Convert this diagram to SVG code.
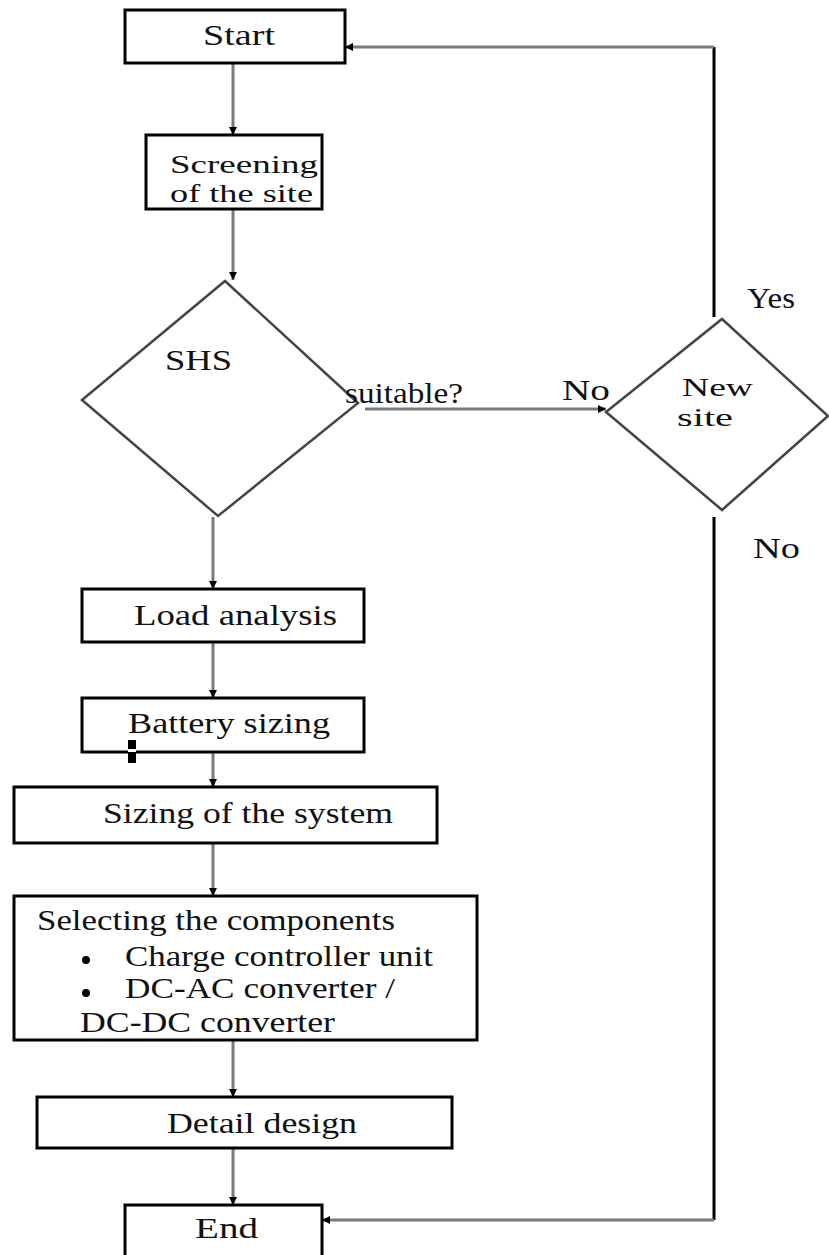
<svg xmlns="http://www.w3.org/2000/svg" width="829" height="1255" viewBox="0 0 829 1255">
<defs>
<style>
.box{fill:#fff;stroke:#000;stroke-width:3}
.dia{fill:#fff;stroke:#444;stroke-width:2.5}
.t{font-family:"Liberation Serif","Times New Roman",serif;font-size:30px;fill:#111}
.s{font-size:26px}
.c{fill:none;stroke:#7a7a7a;stroke-width:3}
.k{fill:none;stroke:#000;stroke-width:3}
</style>
<marker id="ah" markerUnits="userSpaceOnUse" markerWidth="10" markerHeight="10" viewBox="0 0 10 10" refX="9" refY="5" orient="auto">
<path d="M1,1 L9,5 L1,9 Z" fill="#000"/>
</marker>
</defs>
<rect width="829" height="1255" fill="#fff"/>
<g id="connectors">
<line class="c" x1="233" y1="63" x2="233" y2="135" marker-end="url(#ah)"/>
<line class="c" x1="233" y1="209" x2="233" y2="280" marker-end="url(#ah)"/>
<line class="c" x1="213" y1="517" x2="213" y2="589" marker-end="url(#ah)"/>
<line class="c" x1="213" y1="642" x2="213" y2="698" marker-end="url(#ah)"/>
<line class="c" x1="213" y1="752" x2="213" y2="787" marker-end="url(#ah)"/>
<line class="c" x1="213" y1="843" x2="213" y2="896" marker-end="url(#ah)"/>
<line class="c" x1="233" y1="1040" x2="233" y2="1097" marker-end="url(#ah)"/>
<line class="c" x1="233" y1="1148" x2="233" y2="1205" marker-end="url(#ah)"/>
<line class="c" x1="365" y1="409" x2="606" y2="409" marker-end="url(#ah)"/>
<line class="k" x1="714" y1="317" x2="714" y2="47"/>
<line class="c" x1="714" y1="47" x2="345" y2="47" marker-end="url(#ah)"/>
<line class="k" x1="714" y1="517" x2="714" y2="1220"/>
<line class="c" x1="714" y1="1220" x2="322" y2="1220" marker-end="url(#ah)"/>
</g>
<g id="start">
<rect class="box" x="125" y="10" width="220" height="53"/>
<text class="t" x="203" y="45" textLength="72" lengthAdjust="spacingAndGlyphs">Start</text>
</g>
<g id="screening">
<rect class="box" x="146" y="135" width="176" height="74"/>
<text class="t s" x="170" y="173" textLength="148" lengthAdjust="spacingAndGlyphs">Screening</text>
<text class="t s" x="170" y="202" textLength="143" lengthAdjust="spacingAndGlyphs">of the site</text>
</g>
<g id="shs-suitable">
<polygon class="dia" points="225,281 358,403 218,516 82,400"/>
<text class="t" x="165" y="370" textLength="67" lengthAdjust="spacingAndGlyphs">SHS</text>
<text class="t" x="345" y="403" textLength="118" lengthAdjust="spacingAndGlyphs">suitable?</text>
</g>
<g id="new-site">
<polygon class="dia" points="722,319 828,416 722,510 606,412"/>
<text class="t s" x="682" y="396" textLength="71" lengthAdjust="spacingAndGlyphs">New</text>
<text class="t s" x="677" y="426" textLength="56" lengthAdjust="spacingAndGlyphs">site</text>
</g>
<g id="labels">
<text class="t" x="562" y="400" textLength="48" lengthAdjust="spacingAndGlyphs">No</text>
<text class="t" x="747" y="308" textLength="48" lengthAdjust="spacingAndGlyphs">Yes</text>
<text class="t" x="753" y="558" textLength="47" lengthAdjust="spacingAndGlyphs">No</text>
</g>
<g id="load-analysis">
<rect class="box" x="82" y="589" width="282" height="53"/>
<text class="t" x="134" y="625" textLength="203" lengthAdjust="spacingAndGlyphs">Load analysis</text>
</g>
<g id="battery-sizing">
<rect class="box" x="82" y="698" width="282" height="54"/>
<text class="t" x="128" y="733" textLength="202" lengthAdjust="spacingAndGlyphs">Battery sizing</text>
</g>
<rect x="128" y="740" width="8" height="23" fill="#000"/>
<rect x="128" y="749" width="8" height="3" fill="#fff"/>
<g id="sizing-system">
<rect class="box" x="14" y="787" width="423" height="56"/>
<text class="t" x="103" y="823" textLength="290" lengthAdjust="spacingAndGlyphs">Sizing of the system</text>
</g>
<g id="selecting">
<rect class="box" x="14" y="896" width="463" height="144"/>
<text class="t" x="37" y="930" textLength="358" lengthAdjust="spacingAndGlyphs">Selecting the components</text>
<circle cx="86" cy="960" r="4" fill="#000"/>
<text class="t" x="125" y="966" textLength="308" lengthAdjust="spacingAndGlyphs">Charge controller unit</text>
<circle cx="86" cy="993" r="4" fill="#000"/>
<text class="t" x="125" y="998" textLength="270" lengthAdjust="spacingAndGlyphs">DC-AC converter /</text>
<text class="t" x="80" y="1032" textLength="255" lengthAdjust="spacingAndGlyphs">DC-DC converter</text>
</g>
<g id="detail-design">
<rect class="box" x="37" y="1097" width="415" height="51"/>
<text class="t" x="167" y="1133" textLength="190" lengthAdjust="spacingAndGlyphs">Detail design</text>
</g>
<g id="end">
<rect class="box" x="125" y="1205" width="197" height="60"/>
<text class="t" x="195" y="1238" textLength="63" lengthAdjust="spacingAndGlyphs">End</text>
</g>
</svg>
